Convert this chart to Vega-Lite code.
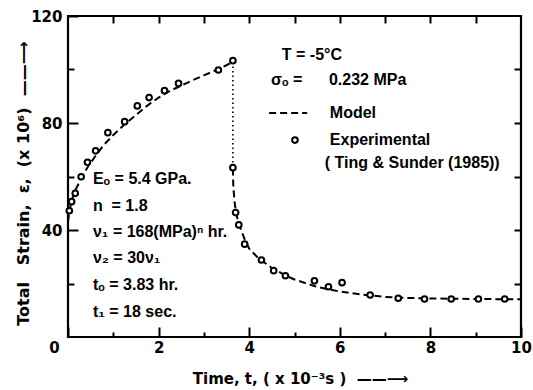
{
  "$schema": "https://vega.github.io/schema/vega-lite/v6.json",
  "width": 453,
  "height": 321,
  "autosize": {"type": "none"},
  "padding": {"left": 68, "top": 16, "right": 12, "bottom": 53},
  "background": "white",
  "config": {
    "view": {"stroke": "black", "strokeWidth": 2.2},
    "font": "DejaVu Sans",
    "axis": {
      "domain": false, "grid": false, "tickColor": "black", "tickWidth": 2, "labelFlush": false,
      "labelFont": "DejaVu Sans", "labelFontWeight": "bold", "labelFontSize": 15, "labelColor": "black",
      "titleFont": "DejaVu Sans", "titleFontWeight": "bold", "titleFontSize": 16, "titleColor": "black"
    }
  },
  "datasets": {
    "model": [
      {"t": 0.0, "strain": 43, "segment": "loading"},
      {"t": 0.03, "strain": 47, "segment": "loading"},
      {"t": 0.08, "strain": 51, "segment": "loading"},
      {"t": 0.15, "strain": 54.5, "segment": "loading"},
      {"t": 0.3, "strain": 59.5, "segment": "loading"},
      {"t": 0.45, "strain": 64, "segment": "loading"},
      {"t": 0.6, "strain": 67.5, "segment": "loading"},
      {"t": 0.8, "strain": 72, "segment": "loading"},
      {"t": 1.0, "strain": 75.5, "segment": "loading"},
      {"t": 1.25, "strain": 79.5, "segment": "loading"},
      {"t": 1.5, "strain": 83, "segment": "loading"},
      {"t": 1.75, "strain": 86.5, "segment": "loading"},
      {"t": 2.0, "strain": 89.5, "segment": "loading"},
      {"t": 2.25, "strain": 92, "segment": "loading"},
      {"t": 2.5, "strain": 94, "segment": "loading"},
      {"t": 2.75, "strain": 96, "segment": "loading"},
      {"t": 3.0, "strain": 97.8, "segment": "loading"},
      {"t": 3.3, "strain": 100, "segment": "loading"},
      {"t": 3.64, "strain": 102.8, "segment": "loading"},
      {"t": 3.64, "strain": 63, "segment": "recovery"},
      {"t": 3.65, "strain": 56, "segment": "recovery"},
      {"t": 3.68, "strain": 50, "segment": "recovery"},
      {"t": 3.72, "strain": 45.5, "segment": "recovery"},
      {"t": 3.8, "strain": 41, "segment": "recovery"},
      {"t": 3.9, "strain": 36.5, "segment": "recovery"},
      {"t": 4.0, "strain": 33, "segment": "recovery"},
      {"t": 4.2, "strain": 29.5, "segment": "recovery"},
      {"t": 4.5, "strain": 25.8, "segment": "recovery"},
      {"t": 4.8, "strain": 23, "segment": "recovery"},
      {"t": 5.0, "strain": 21.5, "segment": "recovery"},
      {"t": 5.5, "strain": 18.7, "segment": "recovery"},
      {"t": 6.0, "strain": 17, "segment": "recovery"},
      {"t": 6.5, "strain": 15.8, "segment": "recovery"},
      {"t": 7.0, "strain": 15, "segment": "recovery"},
      {"t": 7.5, "strain": 14.6, "segment": "recovery"},
      {"t": 8.0, "strain": 14.4, "segment": "recovery"},
      {"t": 9.0, "strain": 14.2, "segment": "recovery"},
      {"t": 10.0, "strain": 14.1, "segment": "recovery"},
      {"t": 4.44, "strain": 83.7, "segment": "legend"},
      {"t": 5.28, "strain": 83.7, "segment": "legend"}
    ],
    "drop": [
      {"t": 3.64, "strain": 102.8},
      {"t": 3.64, "strain": 63}
    ],
    "experimental": [
      {"t": 0.03, "strain": 47.2},
      {"t": 0.08, "strain": 50.6},
      {"t": 0.16, "strain": 53.7},
      {"t": 0.29, "strain": 59.9},
      {"t": 0.43, "strain": 65.3},
      {"t": 0.61, "strain": 69.6},
      {"t": 0.88, "strain": 76.4},
      {"t": 1.25, "strain": 80.5},
      {"t": 1.53, "strain": 86.4},
      {"t": 1.79, "strain": 89.5},
      {"t": 2.13, "strain": 92.1},
      {"t": 2.44, "strain": 94.8},
      {"t": 3.32, "strain": 99.8},
      {"t": 3.64, "strain": 103.3},
      {"t": 3.64, "strain": 63.3},
      {"t": 3.70, "strain": 46.5},
      {"t": 3.77, "strain": 41.9},
      {"t": 3.90, "strain": 34.7},
      {"t": 4.27, "strain": 28.8},
      {"t": 4.54, "strain": 24.8},
      {"t": 4.80, "strain": 22.9},
      {"t": 5.44, "strain": 21.0},
      {"t": 5.75, "strain": 18.8},
      {"t": 6.05, "strain": 20.3},
      {"t": 6.67, "strain": 15.7},
      {"t": 7.29, "strain": 14.5},
      {"t": 7.87, "strain": 14.2},
      {"t": 8.46, "strain": 14.2},
      {"t": 9.06, "strain": 14.2},
      {"t": 9.64, "strain": 14.2},
      {"t": 5.01, "strain": 73.6}
    ],
    "notesRight": [
      {"t": 4.72, "strain": 105.4, "label": "T = -5°C"},
      {"t": 4.48, "strain": 96.1, "label": "σₒ =\u00a0\u00a0\u00a0\u00a0\u00a0\u00a00.232 MPa"},
      {"t": 5.78, "strain": 83.7, "label": "Model"},
      {"t": 5.78, "strain": 73.6, "label": "Experimental"},
      {"t": 5.67, "strain": 65.0, "label": "( Ting & Sunder (1985))"}
    ],
    "notesLeft": [
      {"t": 0.55, "strain": 59.1, "label": "Eₒ = 5.4 GPa."},
      {"t": 0.55, "strain": 49.0, "label": "n\u00a0\u00a0= 1.8"},
      {"t": 0.55, "strain": 39.3, "label": "ν₁ = 168(MPa)ⁿ hr."},
      {"t": 0.55, "strain": 29.5, "label": "ν₂ = 30ν₁"},
      {"t": 0.55, "strain": 19.4, "label": "tₒ = 3.83 hr."},
      {"t": 0.55, "strain": 9.3, "label": "t₁ = 18 sec."}
    ]
  },
  "resolve": {"axis": {"x": "independent", "y": "independent"}},
  "layer": [
    {
      "data": {"name": "model"},
      "mark": {"type": "line", "strokeDash": [7, 4], "strokeWidth": 2, "color": "black"},
      "encoding": {
        "x": {"field": "t", "type": "quantitative", "scale": {"domain": [0, 10], "nice": false}, "axis": null},
        "y": {"field": "strain", "type": "quantitative", "scale": {"domain": [0, 120], "nice": false}, "axis": null},
        "detail": {"field": "segment"}
      }
    },
    {
      "data": {"name": "drop"},
      "mark": {"type": "line", "strokeDash": [1.5, 3], "strokeWidth": 1.6, "color": "black"},
      "encoding": {
        "x": {"field": "t", "type": "quantitative", "axis": {"orient": "top", "values": [1, 2, 3, 4, 5, 6, 7, 8, 9], "tickSize": -7, "labels": false, "title": null}},
        "y": {"field": "strain", "type": "quantitative", "axis": {"orient": "right", "values": [20, 40, 60, 80, 100], "tickSize": -7, "labels": false, "title": null}}
      }
    },
    {
      "data": {"name": "experimental"},
      "mark": {"type": "point", "shape": "circle", "filled": true, "fill": "white", "stroke": "black", "strokeWidth": 2, "size": 32, "opacity": 1},
      "encoding": {
        "x": {"field": "t", "type": "quantitative", "axis": {
          "orient": "bottom", "values": [0, 1, 2, 3, 4, 5, 6, 7, 8, 9, 10],
          "tickSize": {"condition": {"test": "datum.value % 2 == 0", "value": -10}, "value": -5},
          "labelExpr": "datum.value % 2 == 0 ? datum.label : ''",
          "labelOffset": {"condition": {"test": "datum.value == 0", "value": -14}, "value": 0},
          "labelPadding": 13,
          "title": "Time, t, ( x 10⁻³s )\u00a0 ——⟶", "titleFontSize": 15, "titleX": 232, "titleY": 41, "titleBaseline": "middle", "titleAlign": "center"
        }},
        "y": {"field": "strain", "type": "quantitative", "axis": {
          "orient": "left", "values": [20, 40, 60, 80, 100, 120],
          "tickSize": {"condition": {"test": "datum.value % 40 == 0", "value": -10}, "value": -6},
          "labelExpr": "datum.value % 40 == 0 ? datum.label : ''",
          "labelPadding": 16,
          "title": "Total\u00a0\u00a0 Strain,\u00a0 ε,\u00a0 (x 10⁶)\u00a0 ——⟶", "titleX": -45, "titleY": 167, "titleBaseline": "middle", "titleAlign": "center", "titleAngle": -90
        }}
      }
    },
    {
      "data": {"name": "notesRight"},
      "mark": {"type": "text", "align": "left", "baseline": "middle", "font": "Liberation Sans", "fontWeight": "bold", "fontSize": 16, "color": "black"},
      "encoding": {
        "x": {"field": "t", "type": "quantitative", "axis": null},
        "y": {"field": "strain", "type": "quantitative", "axis": null},
        "text": {"field": "label"}
      }
    },
    {
      "data": {"name": "notesLeft"},
      "mark": {"type": "text", "align": "left", "baseline": "middle", "font": "Liberation Sans", "fontWeight": "bold", "fontSize": 16, "color": "black"},
      "encoding": {
        "x": {"field": "t", "type": "quantitative", "axis": null},
        "y": {"field": "strain", "type": "quantitative", "axis": null},
        "text": {"field": "label"}
      }
    }
  ]
}
